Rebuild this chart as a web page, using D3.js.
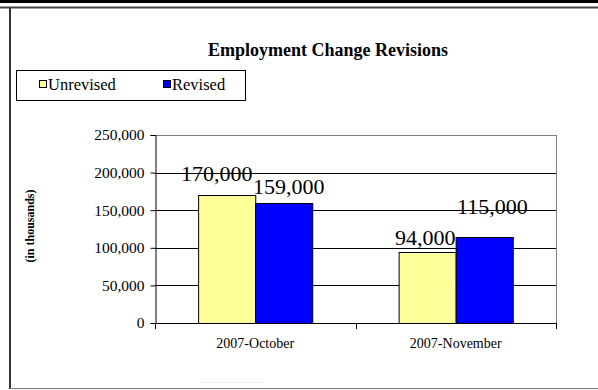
<!DOCTYPE html>
<html>
<head>
<meta charset="utf-8">
<script src="https://cdn.jsdelivr.net/npm/d3@7/dist/d3.min.js"></script>
<style>
  html, body { margin: 0; padding: 0; background: #fff; }
  svg { display: block; }
  text { font-family: "Liberation Serif", "Times New Roman", serif; fill: #000; }
</style>
</head>
<body>
<svg id="chart" width="598" height="390"></svg>
<script>
// ---- data ----
const categories = ["2007-October", "2007-November"];
const seriesNames = ["Unrevised", "Revised"];
const unrevised = [170000, 94000];
const revised = [159000, 115000];
const yTicks = [0, 50000, 100000, 150000, 200000, 250000];

// ---- layout ----
const W = 598, H = 390;
const plot = { left: 155, right: 556, top: 135, bottom: 323 };
const colors = ["#FFFF99", "#0000FF"];
// hand-placed offsets of the value labels, [category][series] -> [dx, dy]
const labelNudge = [[[-10, -14], [5, -9]], [[-2, -7], [8, -23]]];

const svg = d3.select("#chart");

// page frame
svg.append("line").attr("x1", 0).attr("x2", W).attr("y1", 1.5).attr("y2", 1.5)
  .attr("stroke", "#000").attr("stroke-width", 3);
svg.append("line").attr("x1", 0).attr("x2", W).attr("y1", 7.5).attr("y2", 7.5)
  .attr("stroke", "#444").attr("stroke-width", 2);
svg.append("line").attr("x1", 10).attr("x2", 10).attr("y1", 7).attr("y2", 389)
  .attr("stroke", "#333").attr("stroke-width", 2);
svg.append("line").attr("x1", 10).attr("x2", W).attr("y1", 388.5).attr("y2", 388.5)
  .attr("stroke", "#777").attr("stroke-width", 1);
svg.append("line").attr("x1", 200).attr("x2", 264).attr("y1", 382.5).attr("y2", 382.5)
  .attr("stroke", "#e4e4e4").attr("stroke-width", 1).attr("stroke-dasharray", "1,1");

// title
svg.append("text").attr("x", 328).attr("y", 56).attr("text-anchor", "middle")
  .style("font-size", "18px").style("font-weight", "bold")
  .text("Employment Change Revisions");

// legend
const legend = svg.append("g");
legend.append("rect").attr("x", 16.5).attr("y", 70.5).attr("width", 229).attr("height", 30)
  .attr("fill", "#fff").attr("stroke", "#000").attr("stroke-width", 1);
const legendX = [39.5, 163.5];
seriesNames.forEach((name, i) => {
  legend.append("rect").attr("x", legendX[i]).attr("y", 80.5).attr("width", 7).attr("height", 7)
    .attr("fill", colors[i]).attr("stroke", "#000").attr("stroke-width", 1);
  legend.append("text").attr("x", legendX[i] + 8.5).attr("y", 90)
    .style("font-size", "16.5px").text(name);
});

// scales
const y = d3.scaleLinear().domain([0, 250000]).range([plot.bottom, plot.top]);
const x0 = d3.scaleBand().domain(categories).range([plot.left, plot.right])
  .paddingInner(0.43).paddingOuter(0.215);
const x1 = d3.scaleBand().domain(seriesNames).range([0, x0.bandwidth()]).padding(0);

// gridlines
svg.append("g").selectAll("line").data(yTicks.filter(t => t > 0)).join("line")
  .attr("x1", plot.left).attr("x2", plot.right)
  .attr("y1", d => Math.round(y(d)) + 0.5).attr("y2", d => Math.round(y(d)) + 0.5)
  .attr("stroke", d => d === 250000 ? "#808080" : "#000").attr("stroke-width", 1);
// right border of plot area
svg.append("line").attr("x1", plot.right + 0.5).attr("x2", plot.right + 0.5)
  .attr("y1", plot.top).attr("y2", plot.bottom).attr("stroke", "#808080");

// bars
const rows = categories.map((c, i) => ({ cat: c, values: [unrevised[i], revised[i]] }));
const groups = svg.append("g").selectAll("g").data(rows).join("g")
  .attr("transform", d => `translate(${x0(d.cat)},0)`);
groups.selectAll("rect").data(d => d.values.map((v, j) => ({ v, s: seriesNames[j], j })))
  .join("rect")
  .attr("x", d => Math.round(x1(d.s)) + 0.5)
  .attr("y", d => Math.round(y(d.v)) + 0.5)
  .attr("width", x1.bandwidth())
  .attr("height", d => Math.round(y(0)) - Math.round(y(d.v)))
  .attr("fill", d => colors[d.j]).attr("stroke", "#000").attr("stroke-width", 1);

// value labels
groups.each(function (d, i) {
  d3.select(this).selectAll("text.val").data(d.values).join("text")
    .attr("class", "val")
    .attr("x", (v, j) => x1(seriesNames[j]) + x1.bandwidth() / 2 + labelNudge[i][j][0])
    .attr("y", (v, j) => y(v) + labelNudge[i][j][1])
    .attr("text-anchor", "middle").style("font-size", "22px")
    .text(v => d3.format(",")(v));
});

// y axis
const yAxis = svg.append("g").attr("transform", `translate(${plot.left + 0.5},0)`)
  .call(d3.axisLeft(y).tickValues(yTicks).tickFormat(d3.format(",")).tickSize(5).tickPadding(6));
yAxis.select(".domain").attr("stroke", "#000");
yAxis.selectAll(".tick line").attr("stroke", "#000");
yAxis.selectAll(".tick text").style("font-size", "15.5px")
  .style("font-family", "'Liberation Serif', serif").attr("fill", "#000");

// x axis line with ticks at category boundaries
const step = x0.step();
const start = plot.left;
svg.append("line").attr("x1", plot.left).attr("x2", plot.right + 1)
  .attr("y1", Math.round(y(0)) + 0.5).attr("y2", Math.round(y(0)) + 0.5).attr("stroke", "#000");
svg.append("g").selectAll("line").data(d3.range(categories.length + 1)).join("line")
  .attr("x1", i => Math.round(start + i * step) + 0.5).attr("x2", i => Math.round(start + i * step) + 0.5)
  .attr("y1", Math.round(y(0))).attr("y2", Math.round(y(0)) + 6).attr("stroke", "#000");
svg.append("g").selectAll("text").data(categories).join("text")
  .attr("x", d => x0(d) + x0.bandwidth() / 2).attr("y", 348)
  .attr("text-anchor", "middle").style("font-size", "14px").text(d => d);

// y axis title
svg.append("text").attr("transform", "translate(34,226) rotate(-90)")
  .attr("text-anchor", "middle").style("font-size", "12px").style("font-weight", "bold")
  .text("(in thousands)");
</script>
</body>
</html>
